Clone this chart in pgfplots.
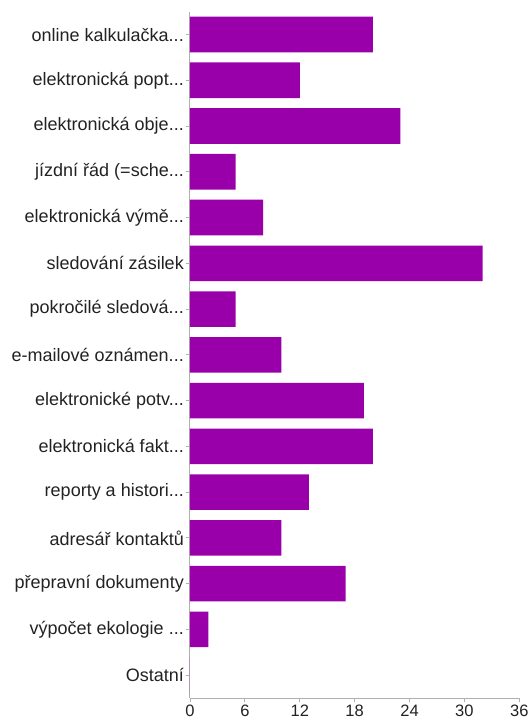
\documentclass[border=0pt]{standalone}
\usepackage{fontspec}
\setmainfont{Liberation Sans}
\usepackage{pgfplots}
\pgfplotsset{compat=1.18}
\definecolor{barpurple}{RGB}{153,0,170}
\definecolor{axisgray}{RGB}{175,175,175}
\definecolor{txt}{RGB}{34,34,34}
\newcommand\el{.\kern0pt.\kern0pt.}
\begin{document}
\begin{tikzpicture}
\begin{axis}[
  name=ax,
  scale only axis,
  width=329.3pt, height=686.3pt,
  xbar, bar width=0.78,
  xmin=0, xmax=36,
  ymin=-0.5, ymax=14.5,
  y dir=reverse,
  xtick={0,6,12,18,24,30,36},
  ytick={0,1,2,3,4,5,6,7,8,9,10,11,12,13,14},
  yticklabels={{online kalkulačka\el},{elektronická popt\el},{elektronická obje\el},{jízdní řád (=sche\el},{elektronická výmě\el},{sledování zásilek},{pokročilé sledová\el},{e-mailové oznámen\el},{elektronické potv\el},{elektronická fakt\el},{reporty a histori\el},{adresář kontaktů},{přepravní dokumenty},{výpočet ekologie \el},{Ostatní}},
  axis x line*=bottom, axis y line*=left,
  axis line style={axisgray, line width=1pt, -},
  tick style={axisgray, line width=0.8pt},
  tick align=outside,
  major tick length=4pt,
  /pgf/number format/assume math mode=true,
  xticklabel style={font=\fontsize{16.5}{18}\selectfont, text=txt, inner sep=1pt, yshift=-2pt},
  yticklabel style={font=\fontsize{18}{20}\selectfont, text=txt, inner sep=1pt, xshift=-1pt},
]
\addplot[fill=barpurple, draw=none] coordinates {
(20,0) (12,1) (23,2) (5,3) (8,4) (32,5) (5,6) (10,7) (19,8) (20,9) (13,10) (10,11) (17,12) (2,13) (0,14)
};
\end{axis}
\pgfresetboundingbox
\path[use as bounding box] ([shift={(-190pt,-24pt)}]ax.south west) rectangle ([shift={(11.7pt,11.7pt)}]ax.north east);
\end{tikzpicture}
\end{document}
